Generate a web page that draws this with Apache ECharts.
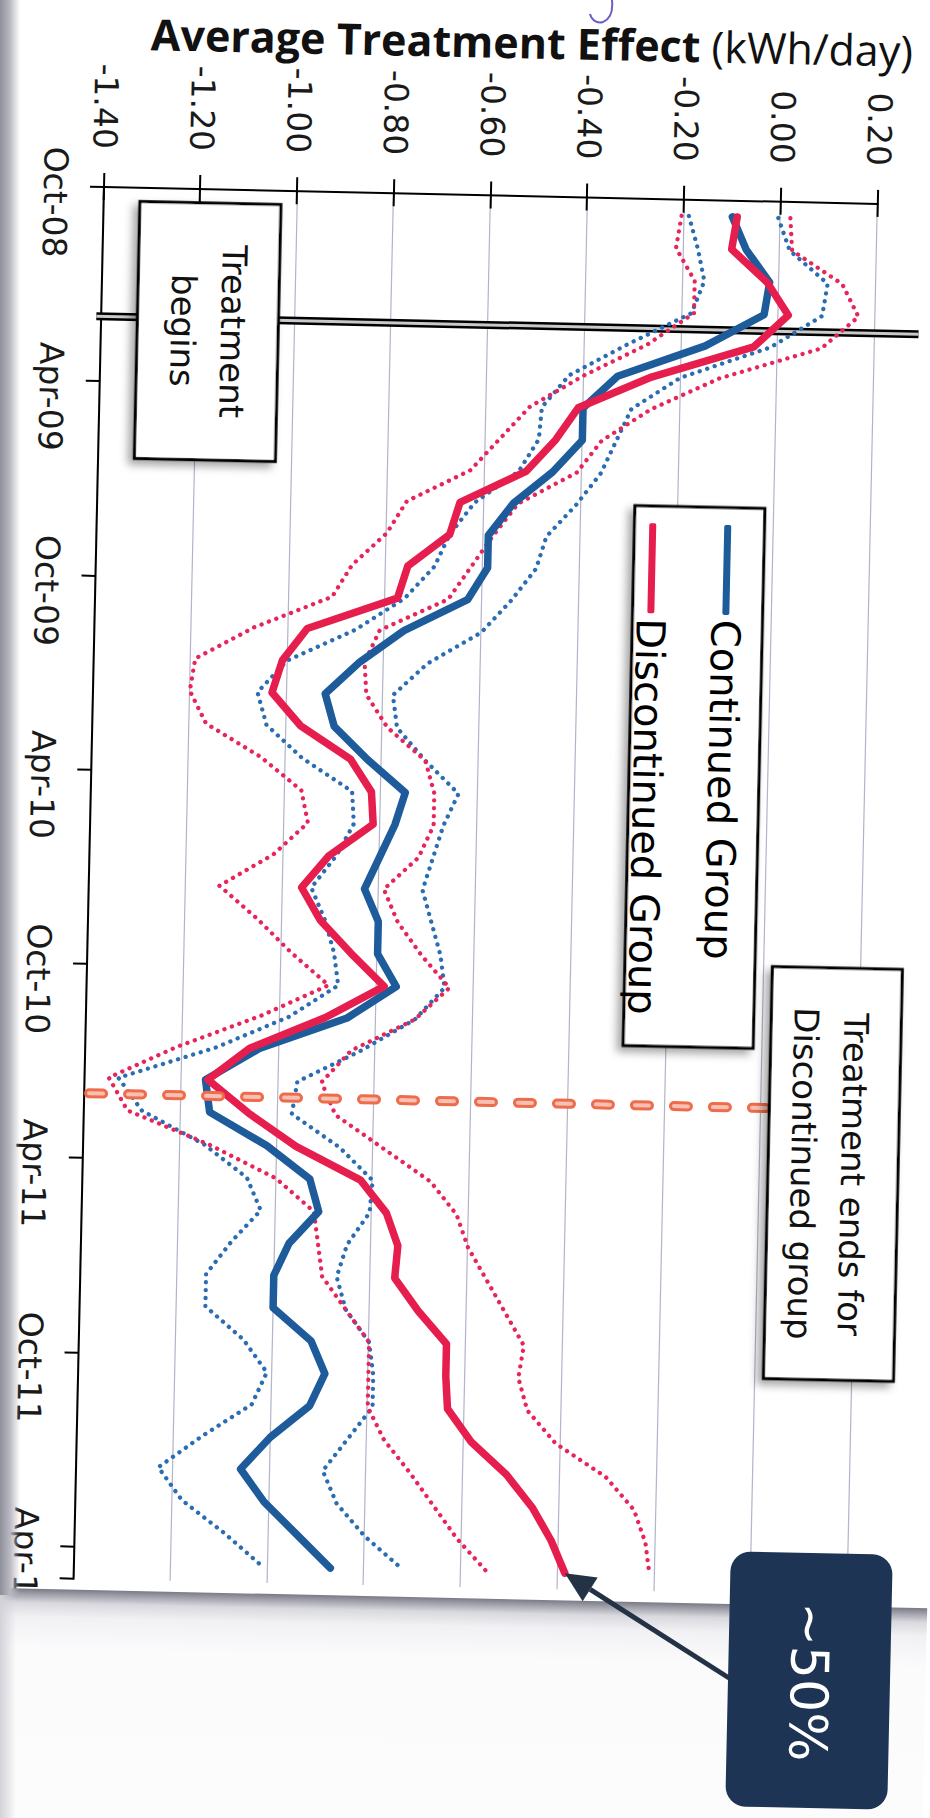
<!DOCTYPE html>
<html>
<head>
<meta charset="utf-8">
<script src="https://cdn.jsdelivr.net/npm/echarts/dist/echarts.min.js"></script>
<style>
html, body { margin: 0; padding: 0; width: 930px; height: 1818px; overflow: hidden; background: #fff; }
#chart { position: absolute; left: 0; top: 0; width: 1900px; height: 1000px;
         transform-origin: 0 0; transform: translate(962.16px, 5.68px) rotate(91.25deg); }
#strip { position: absolute; left: 0; top: 0; width: 20px; height: 1595px;
         background: linear-gradient(to right, #8f8f9a, #b9b9c2 50%, rgba(255,255,255,0)); }
#strip2 { position: absolute; left: 0; top: 1595px; width: 16px; height: 223px;
         background: linear-gradient(to right, #d2d2d8, rgba(255,255,255,0)); }
#pen { position: absolute; left: 0; top: 0; }
</style>
</head>
<body>
<div id="chart"></div>
<div id="strip"></div>
<div id="strip2"></div>
<svg id="pen" width="930" height="40"><path d="M612,0 C613,10 611,19 603,22 C596,24 591,19 590,14" fill="none" stroke="#6b5fc4" stroke-width="2"/></svg>
<script>
// monthly points, Oct-08 .. Apr-12
const months = ['Oct-08','Nov-08','Dec-08','Jan-09','Feb-09','Mar-09','Apr-09','May-09','Jun-09','Jul-09','Aug-09','Sep-09',
  'Oct-09','Nov-09','Dec-09','Jan-10','Feb-10','Mar-10','Apr-10','May-10','Jun-10','Jul-10','Aug-10','Sep-10',
  'Oct-10','Nov-10','Dec-10','Jan-11','Feb-11','Mar-11','Apr-11','May-11','Jun-11','Jul-11','Aug-11','Sep-11',
  'Oct-11','Nov-11','Dec-11','Jan-12','Feb-12','Mar-12','Apr-12'];

const continued = [-0.10,-0.07,-0.02,-0.03,-0.15,-0.33,-0.40,-0.40,-0.46,-0.54,-0.59,-0.59,
  -0.63,-0.76,-0.85,-0.92,-0.90,-0.83,-0.75,-0.77,-0.80,-0.83,-0.80,-0.80,
  -0.76,-0.86,-1.04,-1.15,-1.14,-1.02,-0.93,-0.91,-0.97,-1.00,-1.00,-0.92,
  -0.89,-0.92,-1.00,-1.06,-1.01,-0.94,-0.87];
const continuedHi = [-0.005,0.02,0.10,0.09,-0.015,-0.20,-0.30,-0.33,-0.36,-0.41,-0.47,-0.49,
  -0.54,-0.60,-0.71,-0.78,-0.77,-0.71,-0.64,-0.67,-0.69,-0.71,-0.69,-0.67,
  -0.66,-0.72,-0.83,-0.96,-0.97,-0.87,-0.80,-0.805,-0.85,-0.87,-0.85,-0.80,
  -0.79,-0.79,-0.84,-0.89,-0.86,-0.80,-0.72];
const continuedLo = [-0.19,-0.17,-0.155,-0.18,-0.31,-0.43,-0.485,-0.49,-0.53,-0.62,-0.67,-0.70,
  -0.76,-0.86,-1.00,-1.06,-1.04,-0.965,-0.86,-0.855,-0.89,-0.94,-0.91,-0.89,
  -0.88,-0.98,-1.13,-1.33,-1.28,-1.15,-1.06,-1.03,-1.09,-1.14,-1.14,-1.06,
  -1.01,-1.04,-1.14,-1.23,-1.18,-1.09,-1.01];

const discontinued = [-0.09,-0.10,-0.025,0.02,-0.05,-0.26,-0.41,-0.455,-0.515,-0.65,-0.67,-0.755,
  -0.775,-0.96,-1.01,-1.03,-0.97,-0.865,-0.82,-0.815,-0.905,-0.96,-0.92,-0.855,
  -0.785,-0.905,-1.06,-1.145,-1.06,-0.96,-0.825,-0.77,-0.745,-0.75,-0.70,-0.64,
  -0.64,-0.635,-0.585,-0.51,-0.455,-0.415,-0.385];
const discontinuedHi = [0.02,0.025,0.13,0.165,0.09,-0.12,-0.26,-0.36,-0.41,-0.53,-0.58,-0.625,
  -0.67,-0.81,-0.84,-0.835,-0.79,-0.71,-0.69,-0.69,-0.72,-0.79,-0.76,-0.71,
  -0.65,-0.72,-0.85,-0.91,-0.88,-0.78,-0.68,-0.625,-0.60,-0.56,-0.52,-0.48,
  -0.49,-0.47,-0.41,-0.305,-0.245,-0.22,-0.21];
const discontinuedLo = [-0.205,-0.215,-0.175,-0.175,-0.27,-0.40,-0.51,-0.57,-0.63,-0.76,-0.80,-0.87,
  -0.91,-1.07,-1.19,-1.20,-1.165,-1.05,-0.965,-0.95,-1.02,-1.13,-1.05,-0.98,
  -0.90,-1.04,-1.21,-1.35,-1.31,-1.14,-1.00,-0.92,-0.91,-0.90,-0.85,-0.80,
  -0.80,-0.80,-0.765,-0.71,-0.66,-0.61,-0.547];

// month boundaries (0 = start of Oct-08)
const treatmentStart = 4;
const treatmentEnd = 28;

const BLUE = '#1e5b9b', RED = '#e61e4d', BLUE_DOT = '#2b6db3', RED_DOT = '#e8255a';

// the picture is drawn upright and turned on the page by css (the scan is a bit skewed)
const PHI = 1.25 * Math.PI / 180, S = Math.sin(PHI), C = Math.cos(PHI);
const TX = 962.16, TY = 5.68;
function toDiv(X, Y) { return [-(X - TX) * S + (Y - TY) * C, -(X - TX) * C - (Y - TY) * S]; }
function boxAt(x1, y1, x2, y2) {
  const c = toDiv((x1 + x2) / 2, (y1 + y2) / 2);
  const w = y2 - y1, h = x2 - x1;
  return { x: c[0] - w / 2, y: c[1] - h / 2, width: w, height: h };
}
function textAt(X, Y, style, z) {
  const c = toDiv(X, Y);
  return { type: 'text', x: c[0], y: c[1], z: z || 6,
    style: Object.assign({ textAlign: 'center', textVerticalAlign: 'middle', align: 'center', verticalAlign: 'middle' }, style) };
}
const boxStyle = { fill: '#fff', stroke: '#000', lineWidth: 3, shadowBlur: 8, shadowOffsetX: 5, shadowOffsetY: 5, shadowColor: 'rgba(0,0,0,0.35)' };
const annFont = { font: '34px "DejaVu Sans"', fontFamily: 'DejaVu Sans', fontSize: 34, fill: '#111', lineHeight: 50 };

const chart = echarts.init(document.getElementById('chart'), null, { renderer: 'svg' });

const dotted = (name, data, color) => ({
  name, type: 'line', data, symbol: 'none', silent: true, z: 2,
  lineStyle: { color, width: 4.3, type: [0.1, 7.8], cap: 'round' }
});
const solid = (name, data, color, z) => ({
  name, type: 'line', data, symbol: 'none', silent: true, z,
  itemStyle: { color }, lineStyle: { color, width: 7.5, cap: 'round', join: 'round' }
});

const legendPos = toDiv(730, 520);

const option = {
  animation: false,
  backgroundColor: '#fff',
  grid: { left: 200, top: 80, width: 1392, height: 774, containLabel: false, outerBoundsMode: 'none' },
  xAxis: [
    { type: 'category', data: months, boundaryGap: true, position: 'bottom',
      axisLine: { onZero: false, lineStyle: { color: '#000', width: 2 } },
      axisTick: { show: true, interval: i => i % 6 === 0 && i < months.length, length: 14, lineStyle: { color: '#000', width: 2 } },
      axisLabel: { show: true, interval: 5, margin: 32, fontFamily: 'DejaVu Sans', fontSize: 33, color: '#1a1a1a' },
      splitLine: { show: false } },
    { type: 'value', min: 0, max: 43, show: false, axisLine: { onZero: false } }
  ],
  yAxis: [
    { type: 'value', min: -1.4, max: 0.2, interval: 0.2, position: 'left',
      axisLine: { show: true, onZero: false, lineStyle: { color: '#000', width: 2 } },
      axisTick: { show: true, length: 14, lineStyle: { color: '#000', width: 2 } },
      axisLabel: { show: true, margin: 38, fontFamily: 'DejaVu Sans', fontSize: 33, color: '#1a1a1a',
        formatter: v => v.toFixed(2) },
      splitLine: { show: true, lineStyle: { color: '#b3b3c9', width: 1.2 } } },
    { type: 'value', min: -1.4, max: 0.2, interval: 0.2, position: 'left',
      axisLine: { show: false, onZero: false },
      axisTick: { show: true, inside: true, length: 13, lineStyle: { color: '#000', width: 2 } },
      axisLabel: { show: false }, splitLine: { show: false } }
  ],
  legend: {
    data: ['Continued Group', 'Discontinued Group'], orient: 'vertical', selectedMode: false,
    left: legendPos[0], top: 196, itemWidth: 90, itemHeight: 7, itemGap: 31, icon: 'roundRect', z: 10,
    textStyle: { fontFamily: 'DejaVu Sans', fontSize: 40, color: '#000', lineHeight: 44 }
  },
  series: [
    // treatment begins: double line
    { type: 'line', xAxisIndex: 1, data: [[treatmentStart, -1.41], [treatmentStart, 0.29]], symbol: 'none',
      silent: true, clip: false, z: 1, lineStyle: { color: '#000', width: 8 } },
    { type: 'line', xAxisIndex: 1, data: [[treatmentStart, -1.41], [treatmentStart, 0.29]], symbol: 'none',
      silent: true, clip: false, z: 1, lineStyle: { color: '#c9c9c9', width: 3 } },
    // treatment ends for discontinued group
    { type: 'line', xAxisIndex: 1, data: [[treatmentEnd, -1.39], [treatmentEnd, 0.01]], symbol: 'none',
      silent: true, clip: false, z: 4, lineStyle: { color: '#ee6b4b', width: 10, type: [14, 25], cap: 'round' } },
    { type: 'line', xAxisIndex: 1, data: [[treatmentEnd, -1.39], [treatmentEnd, 0.01]], symbol: 'none',
      silent: true, clip: false, z: 4, lineStyle: { color: '#f6c1b2', width: 4, type: [14, 25], cap: 'round' } },
    dotted('Continued upper', continuedHi, BLUE_DOT),
    dotted('Continued lower', continuedLo, BLUE_DOT),
    dotted('Discontinued upper', discontinuedHi, RED_DOT),
    dotted('Discontinued lower', discontinuedLo, RED_DOT),
    solid('Continued Group', continued, BLUE, 3),
    solid('Discontinued Group', discontinued, RED, 3)
  ]
};
chart.setOption(option);

// annotations, arrow tip taken from the last discontinued point
const last = discontinued.length - 1;
const tip = chart.convertToPixel({ xAxisIndex: 0, yAxisIndex: 0 }, [months[last], discontinued[last]]);
const tail = toDiv(729, 1678);
const dx = tip[0] - tail[0], dy = tip[1] - tail[1], len = Math.hypot(dx, dy);
const ux = dx / len, uy = dy / len;
const base = [tip[0] - ux * 30, tip[1] - uy * 30];

const titleC = toDiv(532, 42);

chart.setOption({
  graphic: [
    { type: 'text', x: titleC[0], y: titleC[1], rotation: Math.PI / 2, z: 6,
      style: { text: '{a|Average Treatment Effect}{b| (kWh/day)}', textAlign: 'center', textVerticalAlign: 'middle',
        align: 'center', verticalAlign: 'middle',
        rich: { a: { fontFamily: 'Open Sans', fontWeight: 'bold', fontSize: 43, fill: '#111' },
                b: { fontFamily: 'Open Sans', fontSize: 43, fill: '#111' } } } },
    { type: 'rect', shape: boxAt(137, 203, 278, 460), style: boxStyle, z: 5 },
    textAt(208, 331, Object.assign({ text: 'Treatment\nbegins' }, annFont)),
    { type: 'rect', shape: boxAt(768, 968, 898, 1380), style: boxStyle, z: 5 },
    textAt(828, 1174, Object.assign({ text: 'Treatment ends for\nDiscontinued group' }, annFont)),
    { type: 'rect', shape: boxAt(629, 507, 759, 1047), style: boxStyle, z: 5 },
    // page edge of the scan
    { type: 'rect', shape: { x: 1603, y: -200, width: 400, height: 1400 }, z: 20, silent: true,
      style: { fill: new echarts.graphic.LinearGradient(0, 0, 1, 0, [
        { offset: 0, color: '#7a7a86' }, { offset: 0.012, color: '#9c9ca6' },
        { offset: 0.035, color: '#d8d8de' }, { offset: 0.07, color: '#f1f1f4' },
        { offset: 0.15, color: '#fbfbfc' }, { offset: 1, color: '#fdfdfd' }]) } },
    // ~50% call-out
    { type: 'rect', shape: Object.assign(boxAt(728, 1553, 890, 1808), { r: 20 }), z: 30,
      style: { fill: '#1d3455' } },
    textAt(809, 1682, { text: '~50%', font: '52px "DejaVu Sans"', fontFamily: 'DejaVu Sans', fontSize: 52, fill: '#fff' }, 31),
    { type: 'line', z: 30, shape: { x1: tail[0], y1: tail[1], x2: base[0], y2: base[1] },
      style: { stroke: '#243246', lineWidth: 5 } },
    { type: 'polygon', z: 30, shape: { points: [tip,
        [base[0] - uy * 14, base[1] + ux * 14], [base[0] + uy * 14, base[1] - ux * 14]] },
      style: { fill: '#243246' } }
  ]
});
</script>
</body>
</html>
